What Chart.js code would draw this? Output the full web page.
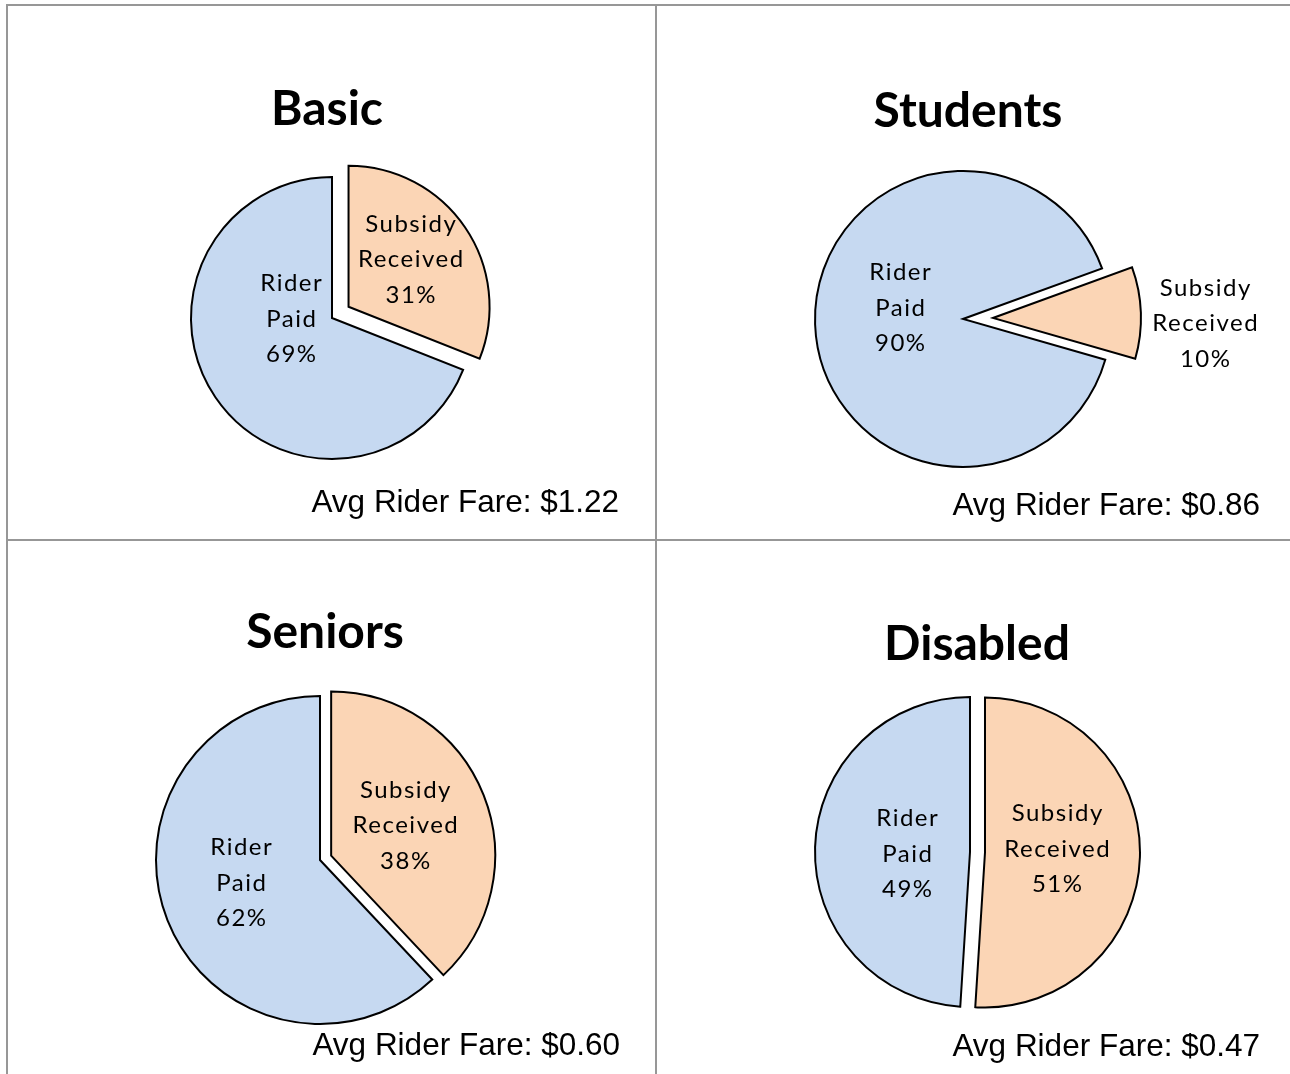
<!DOCTYPE html>
<html>
<head>
<meta charset="utf-8">
<title>Rider Paid vs Subsidy Received</title>
<script src="https://cdn.jsdelivr.net/npm/chart.js@4/dist/chart.umd.min.js"></script>
<style>
  html, body { margin: 0; padding: 0; background: #fff; }
  #board { position: relative; width: 1290px; height: 1074px; overflow: hidden; background: #fff; }
  .rule { position: absolute; background: #979797; }
  canvas { position: absolute; }
</style>
</head>
<body>
<div id="board">
  <canvas id="pie0"></canvas>
  <canvas id="pie1"></canvas>
  <canvas id="pie2"></canvas>
  <canvas id="pie3"></canvas>
  <div class="rule" style="left:6px;top:4px;width:1284px;height:2px"></div>
  <div class="rule" style="left:6px;top:4px;width:2px;height:1070px"></div>
  <div class="rule" style="left:655px;top:4px;width:2px;height:1070px"></div>
  <div class="rule" style="left:6px;top:539px;width:1284px;height:2px"></div>
</div>
<script>
// Fare groups and the share of each fare paid by the rider vs. covered by subsidy
const groups = ['Basic', 'Students', 'Seniors', 'Disabled'];
const categories = ['Subsidy Received', 'Rider Paid'];
const subsidyPct = [31, 10, 38, 51];
const riderPct = [69, 90, 62, 49];
const avgFares = ['$1.22', '$0.86', '$0.60', '$0.47'];

const sliceColors = ['#FBD5B5', '#C6D9F1'];

// Panel layout (canvas placement, pie centre/radius, exploded distance, label placement)
const panels = [
  { left: 8,   top: 6,   w: 647, h: 533, cx: 324, cy: 312, r: 141, rotation: 0,  explode: [20, 0],
    titleX: 319, titleY: 119, fareX: 611, fareY: 506, labelOff: [[62, -48], [-41, 0]] },
  { left: 657, top: 6,   w: 633, h: 533, cx: 306, cy: 313, r: 148, rotation: 70, explode: [30, 0],
    titleX: 311, titleY: 121, fareX: 603, fareY: 509, labelOff: [[212, 5], [-63, -12]] },
  { left: 8,   top: 541, w: 647, h: 533, cx: 312, cy: 319, r: 164, rotation: 0,  explode: [12, 0],
    titleX: 317, titleY: 107, fareX: 612, fareY: 514, labelOff: [[74, -31], [-79, 22]] },
  { left: 657, top: 541, w: 633, h: 533, cx: 313, cy: 311, r: 155, rotation: 0,  explode: [15, 0],
    titleX: 320, titleY: 119, fareX: 603, fareY: 515, labelOff: [[72, -4], [-63, 1]] }
];

// Pull exploded slices outward along their mid-angle without changing their radius
const explodePlugin = {
  id: 'explodeSlices',
  afterDatasetUpdate(chart, args) {
    const cfg = chart.options.plugins.explodeSlices;
    args.meta.data.forEach((arc, j) => {
      const d = cfg.distances[j] || 0;
      if (!d) return;
      const mid = (arc.startAngle + arc.endAngle) / 2;
      arc.x += Math.cos(mid) * d;
      arc.y += Math.sin(mid) * d;
    });
  }
};

// Category name + percentage, stacked over three lines
const sliceLabelPlugin = {
  id: 'sliceLabels',
  afterDatasetsDraw(chart) {
    const cfg = chart.options.plugins.sliceLabels;
    const ctx = chart.ctx;
    const meta = chart.getDatasetMeta(0);
    const values = chart.data.datasets[0].data;
    ctx.save();
    ctx.font = '24px Lato';
    ctx.letterSpacing = '1.5px';
    ctx.fillStyle = '#000';
    ctx.textAlign = 'center';
    ctx.textBaseline = 'alphabetic';
    meta.data.forEach((arc, j) => {
      const lines = chart.data.labels[j].split(' ').concat([values[j] + '%']);
      const [dx, dy] = cfg.offsets[j];
      const x = arc.x + dx;
      const y = arc.y + dy;
      const step = 35.5;
      lines.forEach((t, k) => {
        const ly = y + (k - (lines.length - 1) / 2) * step + 8.5;
        ctx.fillText(t, x + 0.75, ly);
      });
    });
    ctx.restore();
  }
};

// Panel heading and average fare note
const panelTextPlugin = {
  id: 'panelText',
  afterDraw(chart) {
    const cfg = chart.options.plugins.panelText;
    const ctx = chart.ctx;
    ctx.save();
    ctx.fillStyle = '#000';
    ctx.textBaseline = 'alphabetic';
    ctx.textAlign = 'center';
    ctx.font = 'bold 48px Lato';
    ctx.fillText(cfg.title, cfg.titleX, cfg.titleY);
    ctx.textAlign = 'right';
    ctx.font = '31.5px "Liberation Sans", Arial, sans-serif';
    ctx.fillText(cfg.fare, cfg.fareX, cfg.fareY);
    ctx.restore();
  }
};

groups.forEach((name, i) => {
  const p = panels[i];
  const canvas = document.getElementById('pie' + i);
  canvas.width = p.w;
  canvas.height = p.h;
  canvas.style.left = p.left + 'px';
  canvas.style.top = p.top + 'px';
  canvas.style.width = p.w + 'px';
  canvas.style.height = p.h + 'px';
  const s = p.r + 5;

  new Chart(canvas, {
    type: 'pie',
    data: {
      labels: categories,
      datasets: [{
        data: [subsidyPct[i], riderPct[i]],
        backgroundColor: sliceColors,
        borderColor: '#000',
        borderWidth: 2,
        borderJoinStyle: 'miter'
      }]
    },
    options: {
      responsive: false,
      animation: false,
      events: [],
      rotation: p.rotation,
      radius: p.r,
      layout: {
        padding: { left: p.cx - s, right: p.w - p.cx - s, top: p.cy - s, bottom: p.h - p.cy - s }
      },
      plugins: {
        legend: { display: false },
        tooltip: { enabled: false },
        explodeSlices: { distances: p.explode },
        sliceLabels: { offsets: p.labelOff },
        panelText: {
          title: name, titleX: p.titleX, titleY: p.titleY,
          fare: 'Avg Rider Fare: ' + avgFares[i], fareX: p.fareX, fareY: p.fareY
        }
      }
    },
    plugins: [explodePlugin, sliceLabelPlugin, panelTextPlugin]
  });
});
</script>
</body>
</html>
